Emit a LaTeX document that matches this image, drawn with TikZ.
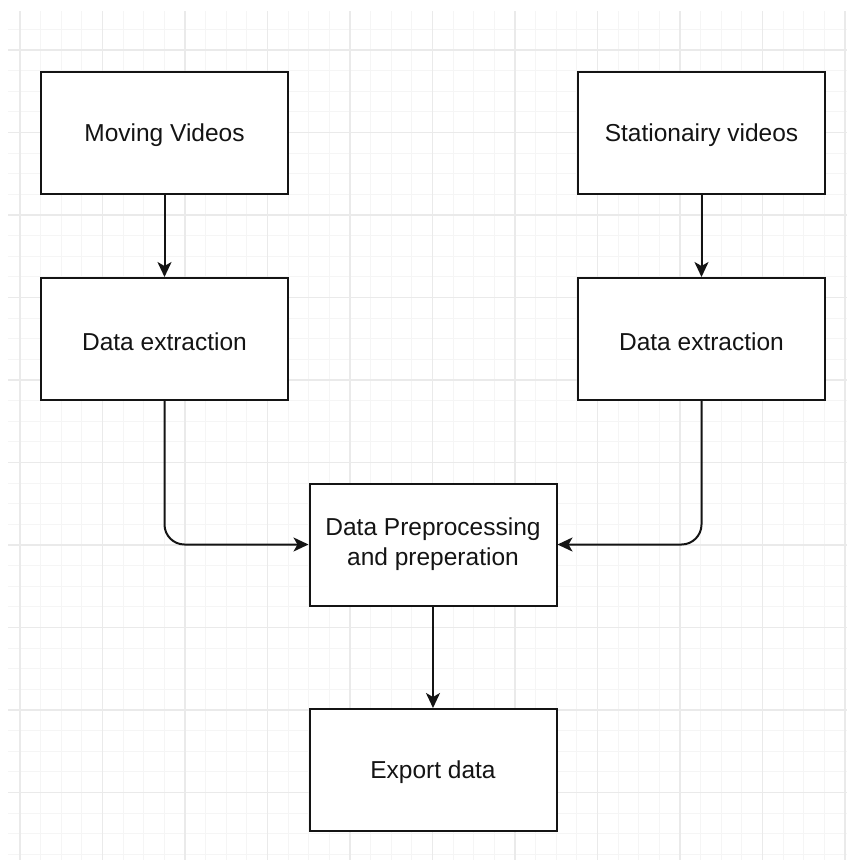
\documentclass[tikz,border=0pt]{standalone}
\usepackage{fontspec}
\setmainfont{Liberation Sans}
\usetikzlibrary{arrows.meta}
\definecolor{gridminor}{HTML}{F5F5F5}
\definecolor{gridmajor}{HTML}{EAEAEA}
\definecolor{ink}{HTML}{141414}
% shift a label down without changing its reported size
\newcommand{\lowered}[1]{\raisebox{-2.5pt}[\height][\depth]{#1}}
\begin{document}
\begin{tikzpicture}[x=1pt,y=-1pt,
  stepbox/.style={draw=ink, line width=2pt, fill=white, text=ink,
    minimum width=247pt, minimum height=122pt, inner sep=0pt,
    align=center, font=\fontsize{24.5}{30}\selectfont},
  flow/.style={draw=ink, line width=2pt,
    -{Stealth[length=15pt, width=14pt, inset=4pt]}}]
  % page frame
  \useasboundingbox (0,0) rectangle (847,860);
  \fill[white] (0,0) rectangle (847,860);
  % background grid: fine lines every 20.625, heavier every 82.5
  \begin{scope}
    \clip (8,11) rectangle (847,860);
    \foreach \i in {-1,...,41} {
      \draw[gridminor, line width=1pt] (20+20.625*\i,0) -- (20+20.625*\i,860);
      \draw[gridminor, line width=1pt] (0,50+20.625*\i) -- (847,50+20.625*\i);
    }
    \foreach \i in {0,...,10} {
      \draw[gridmajor, line width=1.1pt] (20+82.5*\i,0) -- (20+82.5*\i,860);
      \draw[gridmajor, line width=1.1pt] (0,50+82.5*\i) -- (847,50+82.5*\i);
    }
  \end{scope}
  % process boxes
  \node[stepbox] (mov)  at (164.5,133)   {\lowered{Moving Videos}};
  \node[stepbox] (sta)  at (701.5,133)   {\lowered{Stationairy videos}};
  \node[stepbox] (extl) at (164.5,339)   {\lowered{Data extraction}};
  \node[stepbox] (extr) at (701.5,339)   {\lowered{Data extraction}};
  \node[stepbox] (prep) at (433,544.5)   {Data Preprocessing\\and preperation};
  \node[stepbox] (exp)  at (433,770)     {\lowered{Export data}};
  % connectors
  \draw[flow] (mov) -- (extl);
  \draw[flow] (sta) -- (extr);
  \draw[flow, rounded corners=20pt] (extl.south) |- (prep.west);
  \draw[flow, rounded corners=20pt] (extr.south) |- (prep.east);
  \draw[flow] (prep) -- (exp);
\end{tikzpicture}
\end{document}
